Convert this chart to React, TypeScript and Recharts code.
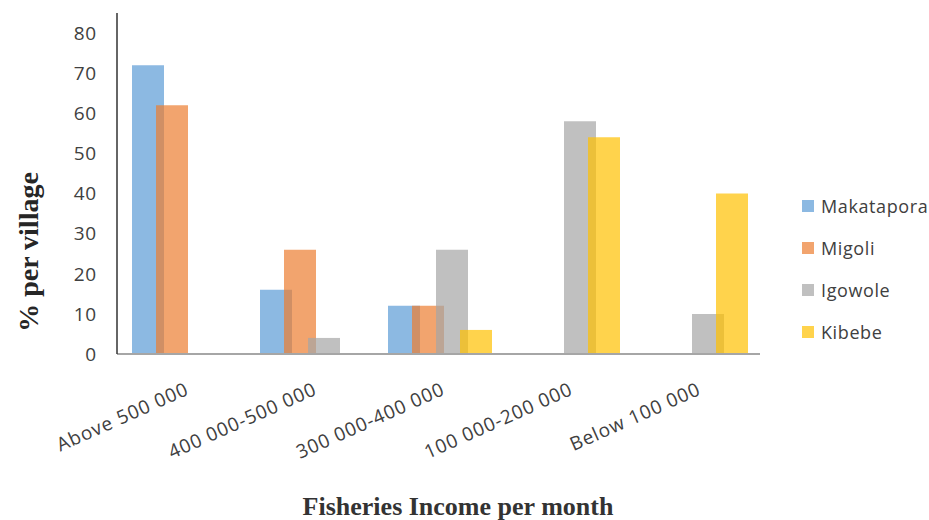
import React from 'react';
import { BarChart, Bar, XAxis, YAxis } from 'recharts';

// income brackets (TZS per month)
const brackets = ['Above 500 000', '400 000-500 000', '300 000-400 000', '100 000-200 000', 'Below 100 000'];

// share of respondents per village, %
const makatapora = [72, 16, 12, 0, 0];
const migoli = [62, 26, 12, 0, 0];
const igowole = [0, 4, 26, 58, 10];
const kibebe = [0, 0, 6, 54, 40];

const yTicks = [0, 10, 20, 30, 40, 50, 60, 70, 80];

const villages = [
    { key: 'Makatapora', values: makatapora, color: '#5B9BD5' },
    { key: 'Migoli', values: migoli, color: '#ED7D31' },
    { key: 'Igowole', values: igowole, color: '#A5A5A5' },
    { key: 'Kibebe', values: kibebe, color: '#FFC000' },
];

const data = brackets.map((name, i) => {
    const row: Record<string, string | number> = { name };
    villages.forEach((v) => { row[v.key] = v.values[i]; });
    return row;
});

const sans = '"Open Sans", "Liberation Sans", sans-serif';
const serif = '"Liberation Serif", "Times New Roman", serif';

const BracketTick = ({ x, y, payload }: any) => (
    <g transform={`translate(${x + 6},${y + 32})`}>
        <text transform="rotate(-24)" textAnchor="end" fill="#404040" fontSize={19} letterSpacing={0.9} fontFamily={sans}>
            {payload.value}
        </text>
    </g>
);

const YTitle = () => (
    <text x={28} y={252} transform="rotate(-90 28 252)" textAnchor="middle" dominantBaseline="central"
        fontFamily={serif} fontWeight="bold" fontSize={28} fill="#262626">
        % per village
    </text>
);

const XTitle = () => (
    <text x={458} y={515} textAnchor="middle" fontFamily={serif} fontWeight="bold" fontSize={26} fill="#333">
        Fisheries Income per month
    </text>
);

// legend sits in the right-hand gutter, one row per village
const VillageLegend = () => (
    <div style={{ position: 'absolute', left: 802, top: 185, fontFamily: sans, fontSize: 18, letterSpacing: 0.6, color: '#404040' }}>
        {villages.map((v) => (
            <div key={v.key} style={{ display: 'flex', alignItems: 'center', height: 42 }}>
                <span style={{ width: 12, height: 12, background: v.color, opacity: 0.7, marginRight: 7 }} />
                <span>{v.key}</span>
            </div>
        ))}
    </div>
);

export default function App() {
    return (
        <div style={{ position: 'absolute', left: 0, top: 0, width: 929, height: 520, background: '#fff' }}>
            <BarChart width={929} height={520} data={data} barSize={32} barGap={-8}
                margin={{ top: 13, right: 169, left: 0, bottom: 0 }}>
                <XAxis dataKey="name" height={166} padding={{ left: 3, right: 0 }} interval={0}
                    tickLine={false} axisLine={{ stroke: '#A6A6A6', strokeWidth: 2 }}
                    tick={<BracketTick />} label={{ content: <XTitle /> }} />
                <YAxis width={117} domain={[0, 85]} ticks={yTicks} tickLine={false} tickMargin={14}
                    axisLine={{ stroke: '#333', strokeWidth: 1.5 }}
                    tick={{ fill: '#404040', fontSize: 19, fontFamily: sans, letterSpacing: 0.8 }}
                    label={{ content: <YTitle /> }} />
                {villages.map((v) => (
                    <Bar key={v.key} dataKey={v.key} fill={v.color} fillOpacity={0.7} isAnimationActive={false} />
                ))}
            </BarChart>
            <VillageLegend />
        </div>
    );
}
